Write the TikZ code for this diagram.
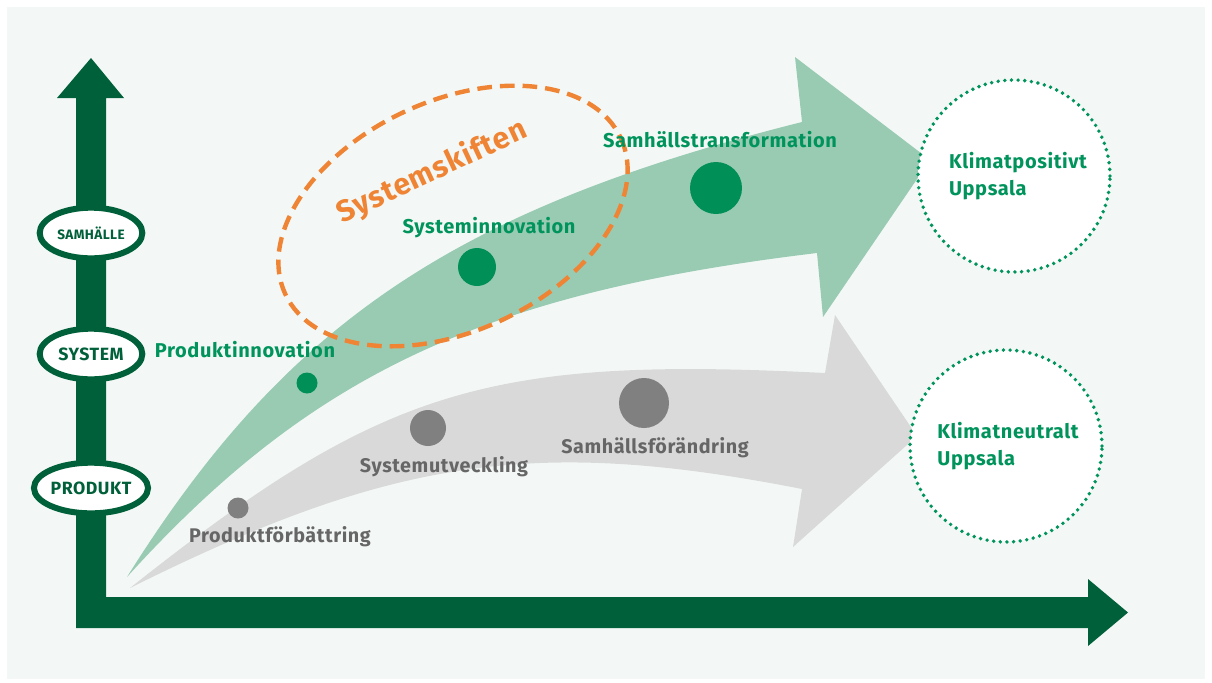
\documentclass[tikz,border=0pt]{standalone}
\usepackage{fontspec}
\setmainfont{Fira Sans}[LetterSpace=3]
\usetikzlibrary{shapes.geometric}
\definecolor{axisgreen}{HTML}{00603A}
\definecolor{labelgreen}{HTML}{00945C}
\definecolor{dotgreen}{HTML}{008F56}
\definecolor{bandgreen}{HTML}{99CBB3}
\definecolor{bandgray}{HTML}{D9D9D9}
\definecolor{dotgray}{HTML}{808080}
\definecolor{textgray}{HTML}{666666}
\definecolor{shiftorange}{HTML}{EE8434}
\definecolor{panel}{HTML}{F3F8F6}
\tikzset{
  level/.style={ellipse,draw=axisgreen,line width=4.5pt,fill=white,inner sep=0pt,
    minimum width=77pt,minimum height=38pt,text=axisgreen,font=\bfseries\fontsize{13.3}{15}\selectfont},
  goal/.style={circle,draw=labelgreen,line width=2.9pt,dash pattern=on 0pt off 5pt,line cap=round,
    fill=white,minimum size=144pt,inner sep=0pt,align=left,text=labelgreen,
    font=\bfseries\fontsize{15}{20.5}\selectfont},
  dot/.style={circle,inner sep=0pt,minimum size=#1},
  glabel/.style={text=labelgreen,font=\bfseries\fontsize{15}{17}\selectfont,anchor=base},
  slabel/.style={text=textgray,font=\bfseries\fontsize{14.8}{17}\selectfont,anchor=base}
}
\begin{document}
\begin{tikzpicture}[x=0.75pt,y=-0.75pt]
\useasboundingbox (0,0) rectangle (1212,682);
\fill[white] (0,0) rectangle (1212,682);
\fill[panel] (7,7) rectangle (1205,679);
% gray arrow
\fill[bandgray] (130,588) .. controls (382,388) and (487,356) .. (825,373) -- (835,315) -- (917,436)
  -- (793,547) -- (802,489) .. controls (536,437) and (393,457) .. (130,588) -- cycle;
% green arrow
\fill[bandgreen] (127,577) .. controls (286,323) and (455,209) .. (802,122) -- (795,57) -- (930,160)
  -- (823,317) -- (817,253) .. controls (484,293) and (311,374) .. (127,577) -- cycle;
% axes
\fill[axisgreen] (76,98) -- (57,98) -- (91,58) -- (124,98) -- (106,98) -- (106,597) -- (1088,597)
  -- (1088,579) -- (1128,612.5) -- (1088,646) -- (1088,628) -- (76,628) -- cycle;
\node[level,font=\bfseries\fontsize{10.2}{12}\selectfont] (samhalle) at (91,233) {SAMHÄLLE};
\node[level] (system) at (91,354) {SYSTEM};
\node[level] (produkt) at (91,488) {PRODUKT};
% systemskiften
\draw[shiftorange,line width=3.3pt,dash pattern=on 11pt off 6pt,rotate around={25:(453,216)}]
  (453,216) ellipse [x radius=185,y radius=115];
\node[text=shiftorange,font=\bfseries\fontsize{22.5}{26}\selectfont,rotate=25] (skiften) at (432,172) {Systemskiften};
% goals
\node[goal] (positiv) at (1014,176) {\hspace*{6pt}Klimatpositivt\\\hspace*{6pt}Uppsala};
\node[goal] (neutral) at (1006,446) {\hspace*{3pt}Klimatneutralt\\\hspace*{3pt}Uppsala};
% steps
\node[dot=15.75pt,fill=dotgray] (pfdot) at (238,508) {};
\node[dot=27pt,fill=dotgray] (sudot) at (428,428) {};
\node[dot=37.5pt,fill=dotgray] (sfdot) at (644,403) {};
\node[dot=15.75pt,fill=dotgreen] (pidot) at (307,383) {};
\node[dot=28.5pt,fill=dotgreen] (sidot) at (477,267) {};
\node[dot=39pt,fill=dotgreen] (stdot) at (716,188) {};
\node[slabel] (pf) at (280,542) {Produktförbättring};
\node[slabel] (su) at (444,472) {Systemutveckling};
\node[slabel] (sf) at (655,453) {Samhällsförändring};
\node[glabel] (pi) at (245,357) {Produktinnovation};
\node[glabel] (si) at (489,233) {Systeminnovation};
\node[glabel] (st) at (720,147) {Samhällstransformation};
\end{tikzpicture}
\end{document}
